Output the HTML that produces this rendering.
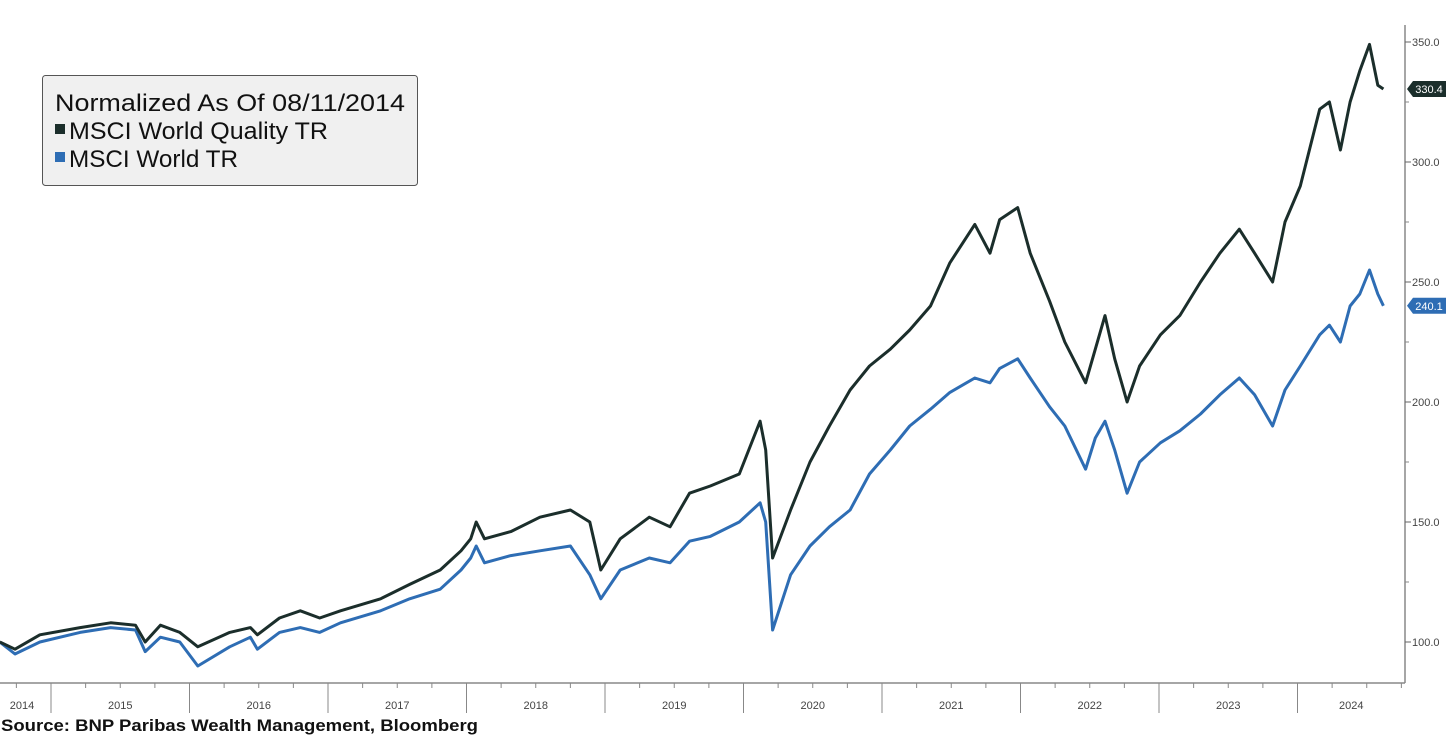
<!DOCTYPE html>
<html><head><meta charset="utf-8"><style>
body{margin:0;background:#fff;width:1456px;height:743px;overflow:hidden;font-family:"Liberation Sans",sans-serif}
svg{position:absolute;left:0;top:0}
</style></head><body>
<svg id="chart" width="1456" height="743" viewBox="0 0 1456 743">
<g id="axes"></g><g id="series"></g>
<g>
<rect x="42.5" y="75.5" width="375" height="110" rx="3" fill="#f0f0f0" stroke="#555"/>
<text x="55" y="111" font-size="24" fill="#111" textLength="350" lengthAdjust="spacingAndGlyphs">Normalized As Of 08/11/2014</text>
<rect x="55" y="124" width="10" height="10" fill="#1b2e2b"/>
<text x="69" y="139" font-size="24" fill="#111" textLength="259" lengthAdjust="spacingAndGlyphs">MSCI World Quality TR</text>
<rect x="55" y="152" width="10" height="10" fill="#2e6db4"/>
<text x="69" y="167" font-size="24" fill="#111" textLength="169" lengthAdjust="spacingAndGlyphs">MSCI World TR</text>
</g>
<text x="1" y="731" font-size="17" font-weight="bold" fill="#111" textLength="477" lengthAdjust="spacingAndGlyphs">Source: BNP Paribas Wealth Management, Bloomberg</text>
</svg>
<script>
const dates=[2014.63,2014.74,2014.92,2015.21,2015.43,2015.61,2015.68,2015.79,2015.93,2016.06,2016.29,2016.44,2016.49,2016.65,2016.80,2016.94,2017.09,2017.38,2017.59,2017.81,2017.96,2018.03,2018.07,2018.13,2018.32,2018.53,2018.75,2018.89,2018.97,2019.11,2019.32,2019.47,2019.61,2019.76,2019.97,2020.12,2020.16,2020.21,2020.34,2020.48,2020.62,2020.77,2020.91,2021.06,2021.20,2021.35,2021.49,2021.67,2021.78,2021.85,2021.98,2022.07,2022.21,2022.32,2022.47,2022.54,2022.61,2022.68,2022.77,2022.86,2023.01,2023.15,2023.30,2023.44,2023.58,2023.69,2023.82,2023.91,2024.02,2024.16,2024.23,2024.31,2024.38,2024.45,2024.52,2024.58,2024.62];
const quality=[100,97,103,106,108,107,100,107,104,98,104,106,103,110,113,110,113,118,124,130,138,143,150,143,146,152,155,150,130,143,152,148,162,165,170,192,180,135,155,175,190,205,215,222,230,240,258,274,262,276,281,262,242,225,208,222,236,218,200,215,228,236,250,262,272,262,250,275,290,322,325,305,325,338,349,332,330.4];
const world=[100,95,100,104,106,105,96,102,100,90,98,102,97,104,106,104,108,113,118,122,130,135,140,133,136,138,140,128,118,130,135,133,142,144,150,158,150,105,128,140,148,155,170,180,190,197,204,210,208,214,218,210,198,190,172,185,192,180,162,175,183,188,195,203,210,203,190,205,215,228,232,225,240,245,255,245,240.1];
const yTicks=[100,150,200,250,300,350];
const years=[2014,2015,2016,2017,2018,2019,2020,2021,2022,2023,2024];
const X=t=>51+(t-2015)*138.5, Y=v=>42+(350-v)*2.4;
const NS='http://www.w3.org/2000/svg';
function mk(tag,attrs,parent){const e=document.createElementNS(NS,tag);for(const k in attrs)e.setAttribute(k,attrs[k]);parent.appendChild(e);return e;}
const ax=document.getElementById('axes'), se=document.getElementById('series');
const yl=mk('line',{x1:1405,y1:25,x2:1405,y2:683,stroke:'#888','stroke-width':1.5},ax);


const xl=mk('line',{x1:0,y1:683,x2:1405,y2:683,stroke:'#888','stroke-width':1.5},ax);


yTicks.forEach(v=>{
 mk('line',{x1:1405,x2:1411,y1:Y(v),y2:Y(v),stroke:'#666'},ax);
 mk('line',{x1:1405,x2:1409,y1:Y(v+25),y2:Y(v+25),stroke:'#888'},ax);
 const t=mk('text',{x:1412,y:Y(v)+4,'font-size':11,fill:'#444'},ax);t.textContent=v.toFixed(1);
 
 
});
years.forEach(yr=>{
 const x0=X(yr);
 if(x0>0) mk('line',{x1:x0,x2:x0,y1:683,y2:713,stroke:'#888'},ax);
 for(let q=1;q<4;q++){const xq=X(yr+q/4);if(xq>0&&xq<1405)mk('line',{x1:xq,x2:xq,y1:683,y2:688,stroke:'#888'},ax);}
 const cx=yr===2014?22:(yr===2024?(X(2024)+1405)/2:X(yr+0.5));
 const t=mk('text',{x:cx,y:709,'font-size':11,fill:'#444','text-anchor':'middle'},ax);t.textContent=yr;
 
 
});
function line(vals,color,name){
 const d=vals.map((v,i)=>(i?'L':'M')+X(dates[i]).toFixed(1)+','+Y(v).toFixed(1)).join('');
 const p=mk('path',{d:d,fill:'none',stroke:color,'stroke-width':3,'stroke-linejoin':'round'},se);
 
 
 const last=vals[vals.length-1], y=Y(last);
 const g=mk('g',{},se);
 
 
 mk('path',{d:`M1407,${y}L1413,${y-8}H1446V${y+8}H1413Z`,fill:color},g);
 const t=mk('text',{x:1429,y:y+4,'font-size':11,fill:'#fff','text-anchor':'middle'},g);t.textContent=last.toFixed(1);
}
line(world,'#2e6db4','world-tr-line');
line(quality,'#1b2e2b','quality-tr-line');
</script>
</body></html>
